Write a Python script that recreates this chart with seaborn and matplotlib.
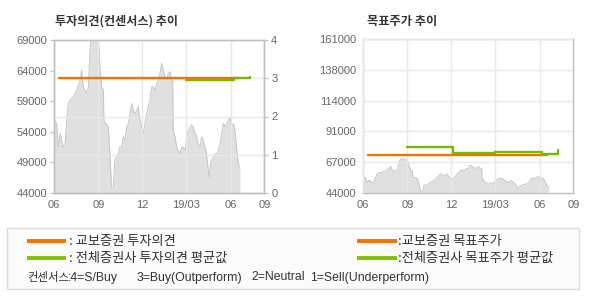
import numpy as np
import pandas as pd
import matplotlib
matplotlib.use("Agg")
import matplotlib.pyplot as plt
import seaborn as sns
from matplotlib.lines import Line2D
from matplotlib.patches import Rectangle

# ---------------- data ----------------
# x = months since 2018-06
tick_pos = [0, 3, 6, 9, 12, 14.3]
tick_labels = ["06", "09", "12", "19/03", "06", "09"]

price_month = [0.0, 0.16, 0.27, 0.39, 0.50, 0.61, 0.73, 0.84, 0.95, 1.07, 1.29, 1.52, 1.75, 1.86,
               1.97, 2.09, 2.20, 2.32, 2.43, 2.54, 2.66, 2.77, 2.88, 3.00, 3.11, 3.22, 3.34, 3.38,
               3.45, 3.56, 3.68, 3.79, 3.90, 4.02, 4.13, 4.24, 4.36, 4.47, 4.58, 4.70, 4.81, 4.93,
               5.04, 5.15, 5.27, 5.38, 5.49, 5.61, 5.72, 5.83, 5.95, 6.06, 6.17, 6.29, 6.40, 6.51,
               6.63, 6.74, 6.85, 6.97, 7.08, 7.19, 7.31, 7.42, 7.54, 7.65, 7.76, 7.88, 7.99, 8.06,
               8.10, 8.22, 8.33, 8.44, 8.56, 8.67, 8.78, 8.90, 9.01, 9.12, 9.24, 9.35, 9.46, 9.58,
               9.69, 9.80, 9.92, 10.03, 10.15, 10.26, 10.37, 10.49, 10.55, 10.64, 10.71, 10.83,
               10.94, 11.05, 11.17, 11.28, 11.39, 11.51, 11.62, 11.73, 11.85, 11.96, 12.07, 12.19,
               12.30, 12.41, 12.53, 12.64]
price = [55900, 55350, 51500, 53700, 52600, 51500, 52000, 55900, 58600, 59200, 59700, 60800,
         62400, 64100, 61350, 60800, 60300, 61350, 67400, 69800, 69500, 70000, 68900, 69200,
         64600, 61350, 60800, 55900, 55350, 55350, 54800, 50400, 45000, 45000, 49350, 49900,
         50400, 51500, 51500, 53200, 52600, 54800, 55350, 57000, 58600, 57500, 57000, 57500,
         58100, 55900, 54800, 53700, 55350, 57000, 58100, 59200, 61350, 61350, 60800, 61900,
         62400, 63500, 65200, 64100, 63000, 62400, 63500, 63800, 62400, 62400, 54200, 53200,
         51500, 51000, 50400, 51500, 51500, 51000, 53200, 54200, 54800, 55100, 54800, 53700,
         53200, 52000, 51500, 53200, 52600, 51500, 50400, 47700, 46600, 48800, 49300, 49900,
         50400, 50400, 51000, 52000, 53700, 55350, 54800, 55350, 55900, 56400, 54800, 55350,
         54200, 51500, 48800, 48000]

# investment opinion (right axis 0-4)
kyobo_op_x = [0.33, 12.57]
kyobo_op = [3, 3]
avg_op_x = [8.96, 12.23, 13.3]
avg_op = [2.96, 3.0, 3.04]

# target price
kyobo_tp_x = [0.34, 12.5]
kyobo_tp = [73000, 73000]
avg_tp_x = [3.0, 6.12, 8.97, 12.17, 13.27]
avg_tp = [79000, 74000, 75300, 73700, 76600]

left_yticks = [44000, 49000, 54000, 59000, 64000, 69000]
right_yticks = [0, 1, 2, 3, 4]
tp_yticks = list(np.linspace(44000, 161000, 6))
tp_ylabels = ["44000", "67000", "91000", "114000", "138000", "161000"]

ORANGE = "#f27300"
GREEN = "#7ab800"
GREEN_LEG = "#84c000"
GRID = "#e8e8e8"
SPINE = "#c0c0c0"
TXT = "#666666"
KR = ["Noto Sans CJK KR", "DejaVu Sans"]
LAT = ["Liberation Sans", "Noto Sans CJK KR"]

# ---------------- figure ----------------
sns.set_theme(style="white")
plt.rcParams["font.family"] = ["Liberation Sans", "Noto Sans CJK KR"]

fig = plt.figure(figsize=(5.9, 3.0), dpi=100)
W, H = 590.0, 300.0


def style_axes(ax):
    for s in ax.spines.values():
        s.set_color(SPINE)
        s.set_linewidth(1.0)
    ax.tick_params(length=3, width=0.8, color=SPINE, labelsize=8, labelcolor=TXT, pad=2)


df = pd.DataFrame({"m": price_month, "p": price})

# ---- left chart ----
ax1 = fig.add_axes([54.3 / W, 1 - 193 / H, 210 / W, 153 / H])
ax1.fill_between(df["m"], 44000, df["p"], color="#e0e0e0", lw=0, zorder=1)
sns.lineplot(data=df, x="m", y="p", ax=ax1, color="#c6c6c6", lw=0.7, zorder=1.2)
ax1.set_xlim(0, 14.3)
ax1.set_ylim(44000, 69000)
ax1.set_yticks(left_yticks)
ax1.set_yticklabels([str(v) for v in left_yticks])
ax1.set_xticks(tick_pos)
ax1.set_xticklabels(tick_labels)
ax1.set_xlabel("")
ax1.set_ylabel("")
ax1.set_axisbelow(False)
ax1.xaxis.grid(True, color=GRID, lw=1)
ax1.yaxis.grid(False)
style_axes(ax1)

ax2 = ax1.twinx()
ax2.set_ylim(0, 4)
ax2.set_yticks(right_yticks)
ax2.yaxis.grid(True, color=GRID, lw=1)
sns.lineplot(x=kyobo_op_x, y=kyobo_op, ax=ax2, color=ORANGE, lw=1.7, zorder=3)
sns.lineplot(x=avg_op_x, y=avg_op, ax=ax2, color=GREEN, lw=1.7, zorder=3.1,
             drawstyle="steps-post")
ax2.set_xlim(0, 14.3)
style_axes(ax2)

# ---- right chart ----
ax3 = fig.add_axes([363.3 / W, 1 - 192.7 / H, 210 / W, 153.4 / H])
ax3.fill_between(df["m"], 44000, df["p"], color="#e0e0e0", lw=0, zorder=1)
sns.lineplot(data=df, x="m", y="p", ax=ax3, color="#c6c6c6", lw=0.7, zorder=1.2)
ax3.set_axisbelow(False)
ax3.grid(True, color=GRID, lw=1)
sns.lineplot(x=kyobo_tp_x, y=kyobo_tp, ax=ax3, color=ORANGE, lw=1.7, zorder=3)
sns.lineplot(x=avg_tp_x, y=avg_tp, ax=ax3, color=GREEN, lw=1.7, zorder=3.1,
             drawstyle="steps-post")
ax3.set_xlim(0, 14.3)
ax3.set_ylim(44000, 161000)
ax3.set_yticks(tp_yticks)
ax3.set_yticklabels(tp_ylabels)
ax3.set_xticks(tick_pos)
ax3.set_xticklabels(tick_labels)
ax3.set_xlabel("")
ax3.set_ylabel("")
style_axes(ax3)

# ---- titles ----
fig.text(55 / W, 1 - 21 / H, "투자의견(컨센서스) 추이", family=KR, fontsize=8.7,
         weight="bold", color="#333333", va="center", ha="left")
fig.text(367 / W, 1 - 21 / H, "목표주가 추이", family=KR, fontsize=8.8,
         weight="bold", color="#333333", va="center", ha="left")

# ---- legend box ----
fig.add_artist(Rectangle((7 / W, 1 - 289 / H), 572 / W, 61 / H, transform=fig.transFigure,
                         facecolor="#fbfbfb", edgecolor="#dcdcdc", lw=1))
legend_rows = [
    (27, 66, 241, ORANGE, 69, ": 교보증권 투자의견"),
    (27, 66, 258, GREEN_LEG, 69, ": 전체증권사 투자의견 평균값"),
    (357, 397, 241, ORANGE, 398, ":교보증권 목표주가"),
    (357, 397, 258, GREEN_LEG, 398, ":전체증권사 목표주가 평균값"),
]
for x0, x1, y, c, tx, t in legend_rows:
    fig.add_artist(Line2D([x0 / W, x1 / W], [1 - y / H, 1 - y / H], transform=fig.transFigure,
                          color=c, lw=2.8, solid_capstyle="butt"))
    fig.text(tx / W, 1 - y / H, t, family=KR, fontsize=9.5, color="#333333",
             va="center", ha="left")

fig.text(27 / W, 1 - 277.5 / H, "컨센서스", family=KR, fontsize=8.2, color="#333333",
         va="center", ha="left")
for x, t in [(68, ":4=S/Buy"), (137, "3=Buy(Outperform)"), (251, "2=Neutral"),
             (310, "1=Sell(Underperform)")]:
    fig.text(x / W, 1 - 277.5 / H, t, family=LAT, fontsize=8.8, color="#333333",
             va="center", ha="left")

fig.savefig("out.png", dpi=100)
